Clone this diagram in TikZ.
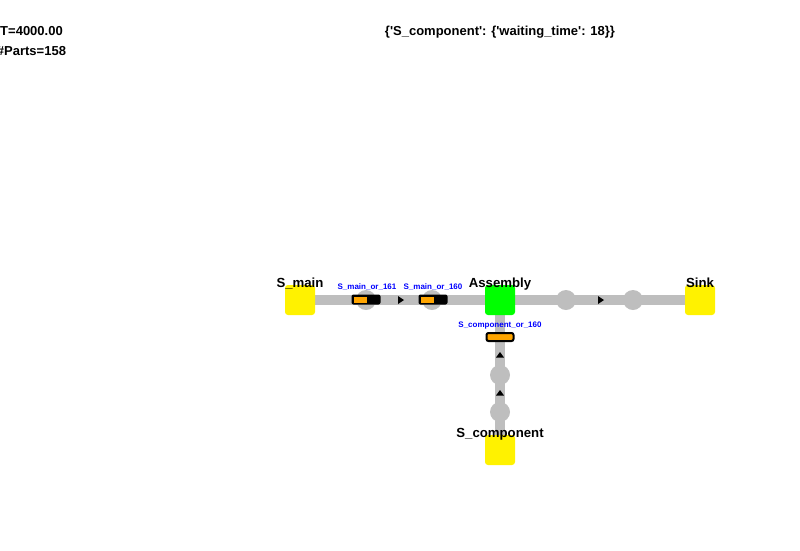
\documentclass[tikz,border=0pt]{standalone}
\usepackage{fontspec}
\setmainfont{Liberation Sans}[Ligatures=TeXOff]
\definecolor{partorange}{RGB}{255,165,0}
\definecolor{beltgray}{RGB}{190,190,190}
\begin{document}
\begin{tikzpicture}[x=1pt,y=-1pt,
  station/.style={minimum width=30pt,minimum height=30pt,rounded corners=3pt,inner sep=0pt},
  conveyor/.style={draw=beltgray,line width=10pt},
  buffer/.style={circle,fill=beltgray,minimum size=20pt,inner sep=0pt},
  lbl/.style={font=\bfseries\fontsize{13.2}{15}\selectfont,inner sep=0pt},
  plbl/.style={font=\bfseries\fontsize{8}{9}\selectfont,text=blue,inner sep=0pt},
  info/.style={font=\bfseries\fontsize{13}{15}\selectfont,inner sep=0pt},
  partbox/.style={fill=black,rounded corners=2pt,minimum width=29pt,minimum height=10pt,inner sep=0pt},
  tip/.style={fill=black}]
\useasboundingbox (0,0) rectangle (800,550);
% stations
\coordinate (cm) at (300,300);
\coordinate (ca) at (500,300);
\coordinate (ck) at (700,300);
\coordinate (cc) at (500,450);
% conveyors
\draw[conveyor] (cm) -- (ca);
\draw[conveyor] (ca) -- (ck);
\draw[conveyor] (cc) -- (ca);
% buffers
\node[buffer] (b1) at (366,300) {};
\node[buffer] (b2) at (432,300) {};
\node[buffer] (b3) at (566,300) {};
\node[buffer] (b4) at (633,300) {};
\node[buffer] (b5) at (500,375) {};
\node[buffer] (b6) at (500,412) {};
% direction tips
\fill[tip] (398,296) -- (404,300) -- (398,304) -- cycle;
\fill[tip] (598,296) -- (604,300) -- (598,304) -- cycle;
\fill[tip] (496,357.5) -- (500,352) -- (504,357.5) -- cycle;
\fill[tip] (496,395.5) -- (500,390) -- (504,395.5) -- cycle;
% station nodes
\node[station,fill=yellow] (smain) at (cm) {};
\node[station,fill=green] (assembly) at (ca) {};
\node[station,fill=yellow] (sink) at (ck) {};
\node[station,fill=yellow] (scomp) at (cc) {};
\node[lbl,anchor=base] (lsmain) at (300,287) {S\_main};
\node[lbl,anchor=base] (lassembly) at (500,287) {Assembly};
\node[lbl,anchor=base] (lsink) at (700,287) {Sink};
\node[lbl,anchor=base] (lscomp) at (500,437) {S\_component};
% parts
\node[partbox] (p1) at (366,299.5) {};
\fill[partorange] (353.5,296.5) rectangle (367,302.5);
\node[partbox] (p2) at (433,299.5) {};
\fill[partorange] (420.5,296.5) rectangle (434,302.5);
\node[fill=partorange,draw=black,line width=2pt,rounded corners=2pt,minimum width=27pt,minimum height=8pt,inner sep=0pt] (p3) at (500,337) {};
\node[plbl,anchor=base] (lp1) at (367,289.5) {S\_main\_or\_161};
\node[plbl,anchor=base] (lp2) at (433,289.5) {S\_main\_or\_160};
\node[plbl,anchor=base] (lp3) at (500,327.5) {S\_component\_or\_160};
% info texts
\node[info,anchor=base] (time) at (31.5,35) {T=4000.00};
\node[info,anchor=base] (parts) at (31.5,55) {\#Parts=158};
\node[info,anchor=base] (wait) at (500,35) {\{'S\_component': \{'waiting\_time': 18\}\}};
\end{tikzpicture}
\end{document}
